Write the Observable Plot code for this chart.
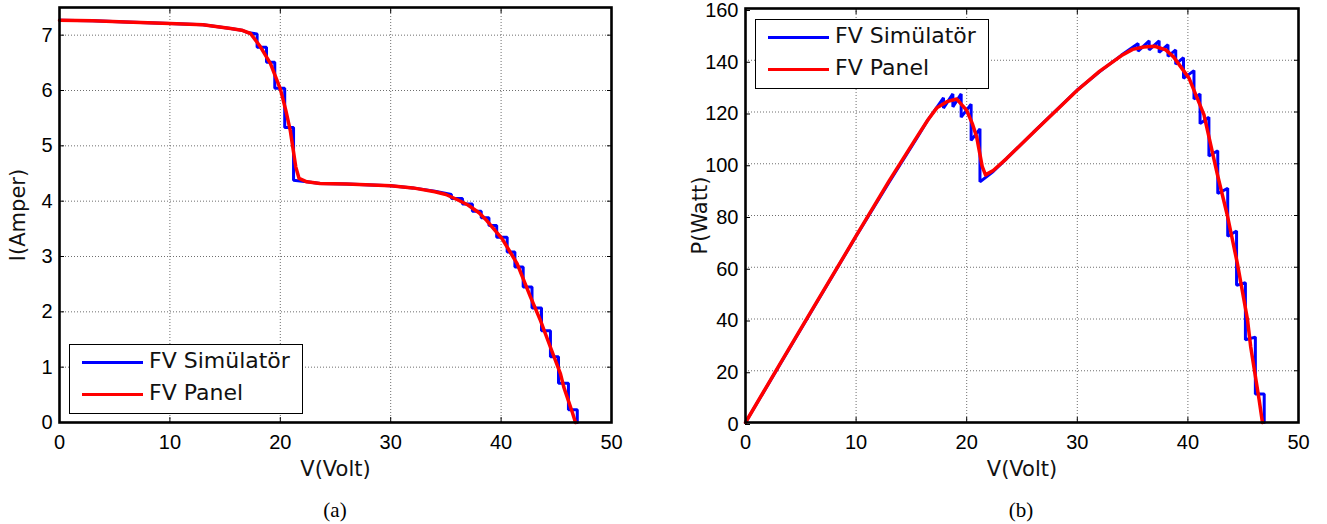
<!DOCTYPE html>
<html>
<head>
<meta charset="utf-8">
<script src="https://cdn.jsdelivr.net/npm/d3@7"></script>
<script src="https://cdn.jsdelivr.net/npm/@observablehq/plot@0.6"></script>
<style>
  html, body { margin: 0; padding: 0; background: #fff; }
  #wrap { position: relative; width: 1327px; height: 524px; overflow: hidden; background: #fff; }
  .chart { position: absolute; top: 0; }
  g[aria-label="x-axis tick label"] text, g[aria-label="y-axis tick label"] text {
    font-family: "Liberation Sans", Arial, sans-serif !important; font-size: 20px !important; fill: #000;
  }
  g[aria-label="x-axis label"] text, g[aria-label="y-axis label"] text {
    font-family: "DejaVu Sans", sans-serif !important; font-size: 21px !important; fill: #111;
  }
  .legend { position: absolute; width: 234px; height: 70px; border: 1.5px solid #000; background: #fff;
            box-sizing: border-box; font-family: "DejaVu Sans", sans-serif; font-size: 22px; color: #111; }
  .legend .sw { position: absolute; left: 12px; width: 61px; height: 3px; }
  .legend .lb { position: absolute; left: 79px; line-height: 26px; white-space: nowrap; }
  .cap { position: absolute; top: 498px; width: 100px; text-align: center;
         font-family: "Liberation Serif", "Times New Roman", serif; font-size: 21px; color: #000; }
</style>
</head>
<body>
<div id="wrap"></div>
<script>
// ---------- data ----------
const xTicks = [0, 10, 20, 30, 40, 50];
const iTicks = [0, 1, 2, 3, 4, 5, 6, 7];
const pTicks = [0, 20, 40, 60, 80, 100, 120, 140, 160];
const seriesNames = ["FV Simülatör", "FV Panel"];
const seriesColors = ["#0000ff", "#ff0000"];
const captions = ["(a)", "(b)"];

// I-V, FV Panel (red)
const ivPanelV = [0, 3, 6, 10, 13, 15.5, 16.5, 17.3, 18.2, 19.1, 20.0, 20.5, 20.9, 21.4, 21.7, 22.4, 23.6, 26, 30, 32, 34, 35, 36, 37, 38, 38.7, 40.1, 41.45, 42.66, 43.57, 44.47, 45.38, 45.68, 46.44, 46.74];
const ivPanelI = [7.27, 7.26, 7.24, 7.21, 7.19, 7.12, 7.09, 7.03, 6.79, 6.49, 6.03, 5.64, 5.28, 4.62, 4.41, 4.35, 4.32, 4.31, 4.28, 4.24, 4.17, 4.12, 4.03, 3.93, 3.79, 3.65, 3.32, 2.87, 2.27, 1.84, 1.36, 0.88, 0.64, 0.19, 0];

// I-V, FV Simülatör (blue staircase)
const ivSimV = [0, 3, 6, 10, 13, 15.5, 16.5, 17.0, 17.9, 17.9, 18.75, 18.75, 19.5, 19.5, 20.4, 20.4, 21.2, 21.2, 22.4, 23.6, 26, 30, 32, 34, 35.5, 35.5, 36.5, 36.5, 37.4, 37.4, 38.2, 38.2, 38.9, 38.9, 39.6, 39.6, 40.55, 40.55, 41.25, 41.25, 42.0, 42.0, 42.8, 42.8, 43.66, 43.66, 44.47, 44.47, 45.2, 45.2, 46.1, 46.1, 46.9, 46.9];
const ivSimI = [7.27, 7.26, 7.24, 7.21, 7.19, 7.12, 7.09, 7.05, 7.02, 6.78, 6.78, 6.51, 6.51, 6.04, 6.04, 5.33, 5.33, 4.38, 4.35, 4.32, 4.31, 4.28, 4.24, 4.18, 4.12, 4.05, 4.05, 3.95, 3.95, 3.82, 3.82, 3.70, 3.70, 3.56, 3.56, 3.35, 3.35, 3.08, 3.08, 2.81, 2.81, 2.45, 2.45, 2.07, 2.07, 1.66, 1.66, 1.19, 1.19, 0.71, 0.71, 0.23, 0.23, 0];

// P-V, FV Panel (red)
const pvPanelV = [0, 3, 6, 10, 13, 15.5, 16.5, 17.3, 18.2, 19.1, 20.0, 20.5, 20.9, 21.4, 21.7, 22.4, 23.6, 26, 30, 32, 34, 35, 36, 37, 38, 38.7, 40.1, 41.45, 42.66, 43.57, 44.47, 45.38, 45.68, 46.44, 46.74];
const pvPanelP = [0, 21.8, 43.4, 72.1, 93.5, 110.4, 117, 121.6, 124, 125, 120.6, 115.6, 110.4, 99, 95.7, 97.4, 102, 112, 128.4, 135.7, 141.8, 144.2, 145.1, 145.4, 144, 141.3, 133.1, 119, 96, 80, 61.5, 40, 29.2, 8.8, 0];

// P-V, FV Simülatör (blue sawtooth)
const pvSimV = [0, 5, 10, 13, 15.5, 16.5, 17.0, 17.9, 17.9, 18.75, 18.75, 19.5, 19.5, 20.4, 20.4, 21.2, 21.2, 22.4, 23.6, 26, 30, 32, 34, 35.5, 35.5, 36.5, 36.5, 37.4, 37.4, 38.2, 38.2, 38.9, 38.9, 39.6, 39.6, 40.55, 40.55, 41.1, 41.1, 41.9, 41.9, 42.7, 42.7, 43.6, 43.6, 44.4, 44.4, 45.2, 45.2, 46.1, 46.1, 46.9, 46.9];
const pvSimP = [0, 36, 72, 93, 110, 117, 120, 125.5, 121.5, 127, 122, 127, 118, 123, 109, 113.5, 93, 97, 102, 112, 128.5, 135.5, 142, 146.5, 143.5, 147.5, 144, 147.5, 143, 146, 141.5, 144, 138.5, 141, 133, 136, 125, 127, 115.5, 118, 103, 105, 88.5, 90.5, 72, 74, 53, 54, 32, 33, 11, 11, 0];

// ---------- build ----------
const zip = (xs, ys) => xs.map((x, i) => ({x, y: ys[i]}));

function makeChart({width, marginLeft, marginRight, marginTop, yDomain, yTicks, yLabel, ylabelOffset, yTickDy, sim, panel}) {
  const grid = {stroke: "#555", strokeOpacity: 0.85, strokeWidth: 1, strokeDasharray: "1,2"};
  return Plot.plot({
    width, height: 480,
    marginLeft, marginRight, marginTop, marginBottom: 58,
    style: {fontSize: "20px", fontFamily: "'Liberation Sans', Arial, sans-serif", color: "#000", background: "transparent", overflow: "visible"},
    x: {domain: [0, 50]},
    y: {domain: yDomain},
    marks: [
      Plot.gridX(xTicks, grid),
      Plot.gridY(yTicks, grid),
      Plot.line(sim, {x: "x", y: "y", stroke: seriesColors[0], strokeWidth: 3, strokeLinejoin: "miter"}),
      Plot.line(panel, {x: "x", y: "y", stroke: seriesColors[1], strokeWidth: 3.5}),
      Plot.frame({stroke: "#000", strokeWidth: 2.6}),
      Plot.axisX(xTicks, {anchor: "bottom", tickSize: -5, tickPadding: 17, tickFormat: d => String(d), label: "V(Volt)", labelAnchor: "center", labelOffset: 53, labelArrow: "none"}),
      Plot.axisX(xTicks, {anchor: "top", tickSize: -5, tickFormat: () => "", label: null}),
      Plot.axisY(yTicks, {anchor: "left", tickSize: -5, tickPadding: 12, dy: yTickDy, tickFormat: d => String(d), label: yLabel, labelAnchor: "center", labelOffset: ylabelOffset, labelArrow: "none"}),
      Plot.axisY(yTicks, {anchor: "right", tickSize: -5, tickFormat: () => "", label: null})
    ]
  });
}

const wrap = document.getElementById("wrap");

const left = makeChart({width: 650, marginLeft: 59, marginRight: 39, marginTop: 7, yDomain: [0, 7.5], yTicks: iTicks, yLabel: "I(Amper)", ylabelOffset: 49, yTickDy: 0,
  sim: zip(ivSimV, ivSimI), panel: zip(ivPanelV, ivPanelI)});
const right = makeChart({width: 677, marginLeft: 95, marginRight: 29, marginTop: 8, yDomain: [0, 160], yTicks: pTicks, yLabel: "P(Watt)", ylabelOffset: 53, yTickDy: 2,
  sim: zip(pvSimV, pvSimP), panel: zip(pvPanelV, pvPanelP)});

const d1 = document.createElement("div"); d1.className = "chart"; d1.style.left = "0px"; d1.appendChild(left); wrap.appendChild(d1);
const d2 = document.createElement("div"); d2.className = "chart"; d2.style.left = "650px"; d2.appendChild(right); wrap.appendChild(d2);

function legend(x, y) {
  const box = document.createElement("div");
  box.className = "legend";
  box.style.left = x + "px"; box.style.top = y + "px";
  seriesNames.forEach((name, i) => {
    const cy = 17 + i * 32;
    const sw = document.createElement("div");
    sw.className = "sw"; sw.style.top = (cy - 1.5) + "px"; sw.style.background = seriesColors[i];
    const lb = document.createElement("div");
    lb.className = "lb"; lb.style.top = (cy - 14) + "px"; lb.textContent = name;
    box.appendChild(sw); box.appendChild(lb);
  });
  wrap.appendChild(box);
}
legend(69, 344);
legend(755, 19);

[[285, captions[0]], [971, captions[1]]].forEach(([x, t]) => {
  const c = document.createElement("div");
  c.className = "cap"; c.style.left = x + "px"; c.textContent = t;
  wrap.appendChild(c);
});
</script>
</body>
</html>
